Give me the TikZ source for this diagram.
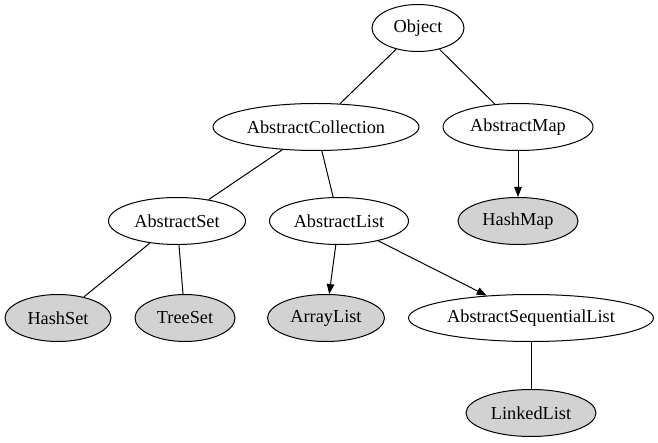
\documentclass[tikz,border=0pt]{standalone}
\usepackage{fontspec}
\setmainfont{Liberation Serif}
\usetikzlibrary{shapes.geometric,arrows.meta}

\begin{document}
\begin{tikzpicture}[x=1pt, y=-1pt, >={Triangle[length=10pt,width=7.5pt]},
    cls/.style={draw, ellipse, line width=1pt, inner sep=0pt, minimum height=47,
      font=\fontsize{18.3}{22}\selectfont},
    impl/.style={cls, fill=gray!35}]

        \useasboundingbox (0,0) rectangle (658,443);

        % Nodes
        \node[cls, minimum width=92] (object) at (418,28) {Object};
        \node[cls, minimum width=206] (abscoll) at (316,127) {AbstractCollection};
        \node[cls, minimum width=150] (absmap) at (518,127) {AbstractMap};
        \node[cls, minimum width=137] (absset) at (177,221) {AbstractSet};
        \node[cls, minimum width=139] (abslist) at (339,221) {AbstractList};
        \node[impl, minimum width=120] (hashmap) at (518,221) {HashMap};
        \node[impl, minimum width=106] (hashset) at (58,318) {HashSet};
        \node[impl, minimum width=100] (treeset) at (185,318) {TreeSet};
        \node[impl, minimum width=117] (arraylist) at (326,318) {ArrayList};
        \node[cls, minimum width=245] (absseq) at (531,318) {AbstractSequentialList};
        \node[impl, minimum width=130] (linkedlist) at (531,413) {LinkedList};

        % Edges
        \draw[line width=1pt] (object) -- (abscoll);
        \draw[line width=1pt] (object) -- (absmap);
        \draw[line width=1pt] (abscoll) -- (absset);
        \draw[line width=1pt] (abscoll) -- (abslist);
        \draw[->, line width=1pt] (absmap) -- (hashmap);
        \draw[line width=1pt] (absset) -- (hashset);
        \draw[line width=1pt] (absset) -- (treeset);
        \draw[->, line width=1pt] (abslist) -- (arraylist);
        \draw[->, line width=1pt] (abslist) -- (absseq);
        \draw[line width=1pt] (absseq) -- (linkedlist);

    \end{tikzpicture}
\end{document}
